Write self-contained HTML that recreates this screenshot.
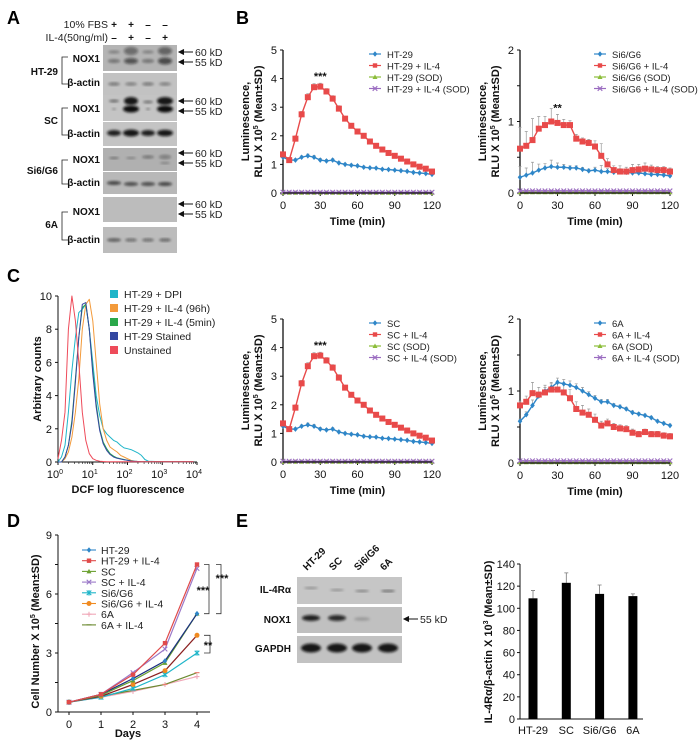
<!DOCTYPE html>
<html><head><meta charset="utf-8">
<style>
html,body{margin:0;padding:0;background:#fff;}
svg{display:block;font-family:"Liberation Sans",Arial,sans-serif;}
.tk{font-size:11px;fill:#111;}
.ttl{font-size:11px;font-weight:bold;fill:#111;}
.lg{font-size:10.5px;fill:#222;}
.lg2{font-size:9.5px;fill:#222;}
.pl{font-size:18px;font-weight:bold;fill:#000;}
.bl{font-size:10px;font-weight:bold;fill:#111;}
</style></head>
<body>
<svg id="fig" width="700" height="744" viewBox="0 0 700 744">
<defs>
<filter id="blur1" x="-50%" y="-50%" width="200%" height="200%"><feGaussianBlur stdDeviation="1.2"/></filter>
</defs>
<text class="pl" x="7" y="24">A</text>
<text class="pl" x="236" y="24">B</text>
<text class="pl" x="7" y="282">C</text>
<text class="pl" x="7" y="527">D</text>
<text class="pl" x="236" y="527">E</text>

<text class="lg" x="108" y="28" text-anchor="end">10% FBS</text>
<text class="lg" x="108" y="41" text-anchor="end">IL-4(50ng/ml)</text>
<g class="bl" text-anchor="middle">
<text x="114" y="28">+</text><text x="131" y="28">+</text><text x="148" y="28">–</text><text x="165" y="28">–</text>
<text x="114" y="41">–</text><text x="131" y="41">+</text><text x="148" y="41">–</text><text x="165" y="41">+</text>
</g>
<g id="blotsA"></g>
<g class="bl" text-anchor="end">
<text x="100" y="62">NOX1</text><text x="100" y="86">β-actin</text>
<text x="100" y="112">NOX1</text>
<text x="100" y="137">β-actin</text>
<text x="100" y="163">NOX1</text><text x="100" y="186">β-actin</text>
<text x="100" y="215">NOX1</text><text x="100" y="243">β-actin</text>
<text x="58" y="75">HT-29</text><text x="58" y="124">SC</text><text x="58" y="174">Si6/G6</text><text x="58" y="228">6A</text>
</g>
<g fill="none" stroke="#222" stroke-width="0.8">
<path d="M68 57 H62 V84 H68"/><path d="M68 108 H62 V135 H68"/><path d="M68 160 H62 V184 H68"/><path d="M68 212 H62 V240 H68"/>
</g>
<g id="kdA"></g>

<g id="lum1"></g>
<g id="lum2"></g>
<g id="lum3"></g>
<g id="lum4"></g>

<g id="hist"></g>
<g id="growth"></g>
<g id="blotE"></g>
<g id="barE"></g>
</svg>
<script>
const lumTimes=[0,5,10,15,20,25,30,35,40,45,50,55,60,65,70,75,80,85,90,95,100,105,110,115,120];
const ht29Base=[1.25,1.15,1.15,1.25,1.3,1.25,1.15,1.12,1.15,1.05,1.0,0.97,0.95,0.9,0.88,0.87,0.83,0.82,0.8,0.78,0.76,0.72,0.7,0.68,0.65];
const ht29IL4=[1.35,1.15,1.9,2.75,3.35,3.7,3.72,3.55,3.3,2.95,2.6,2.35,2.15,2.0,1.8,1.65,1.52,1.4,1.3,1.2,1.1,1.0,0.92,0.85,0.75];
const ht29SD=[0.08,0.08,0.1,0.1,0.12,0.12,0.12,0.1,0.1,0.1,0.08,0.08,0.08,0.08,0.06,0.06,0.06,0.06,0.05,0.05,0.05,0.05,0.05,0.05,0.05];
const si6Base=[0.22,0.25,0.28,0.32,0.35,0.37,0.36,0.36,0.35,0.35,0.33,0.31,0.32,0.3,0.3,0.29,0.3,0.29,0.28,0.28,0.27,0.26,0.26,0.25,0.24];
const si6IL4=[0.62,0.66,0.74,0.9,0.95,1.0,0.98,0.95,0.95,0.76,0.72,0.7,0.65,0.52,0.4,0.32,0.3,0.3,0.32,0.33,0.34,0.33,0.32,0.32,0.3];
const si6SD=[0.3,0.2,0.3,0.17,0.12,0.18,0.12,0.08,0.06,0.06,0.05,0.05,0.08,0.17,0.08,0.06,0.08,0.06,0.08,0.07,0.08,0.06,0.05,0.05,0.05];
const scBase=[1.25,1.15,1.15,1.25,1.3,1.25,1.15,1.12,1.15,1.05,1.0,0.97,0.95,0.9,0.88,0.87,0.83,0.82,0.8,0.78,0.76,0.72,0.7,0.68,0.65];
const scIL4=[1.35,1.15,1.9,2.75,3.35,3.7,3.72,3.55,3.3,2.95,2.6,2.35,2.15,2.0,1.8,1.65,1.52,1.4,1.3,1.2,1.1,1.0,0.92,0.85,0.75];
const scSD=[0.08,0.08,0.1,0.1,0.12,0.12,0.12,0.1,0.1,0.1,0.08,0.08,0.08,0.08,0.06,0.06,0.06,0.06,0.05,0.05,0.05,0.05,0.05,0.05,0.05];
const a6Base=[0.58,0.67,0.8,0.93,1.0,1.05,1.12,1.1,1.08,1.05,1.0,0.95,0.9,0.85,0.85,0.8,0.78,0.75,0.7,0.68,0.66,0.63,0.58,0.55,0.52];
const a6IL4=[0.8,0.85,0.97,0.95,0.98,1.02,1.02,0.98,0.9,0.75,0.7,0.67,0.6,0.52,0.55,0.5,0.48,0.47,0.42,0.4,0.43,0.4,0.4,0.38,0.37];
const a6SD=[0.06,0.08,0.15,0.1,0.1,0.1,0.12,0.12,0.12,0.1,0.1,0.08,0.08,0.06,0.06,0.05,0.05,0.05,0.05,0.04,0.04,0.04,0.04,0.04,0.04];
const sodBase=[0.01,0.01,0.01,0.01,0.01,0.01,0.01,0.01,0.01,0.01,0.01,0.01,0.01,0.01,0.01,0.01,0.01,0.01,0.01,0.01,0.01,0.01,0.01,0.01,0.01];
const sodIL4=[0.03,0.03,0.03,0.03,0.03,0.03,0.03,0.03,0.03,0.03,0.03,0.03,0.03,0.03,0.03,0.03,0.03,0.03,0.03,0.03,0.03,0.03,0.03,0.03,0.03];
const timeTicks=[0,30,60,90,120];

const histLog=[0,0.1,0.2,0.3,0.4,0.5,0.6,0.7,0.8,0.9,1.0,1.1,1.2,1.3,1.4,1.5,1.6,1.7,1.8,1.9,2.0,2.1,2.2,2.3,2.4,2.5,2.6,2.8,3.0,3.5,3.9];
const histDPI=[0,0.3,1,3,5.5,7.5,9,9.2,9.5,8,6,4,2.8,2.0,1.7,1.5,1.3,1.2,1.0,0.85,0.8,0.75,0.65,0.55,0.4,0.15,0.05,0.03,0.02,0.02,0.02];
const hist96h=[0,0,0.2,0.6,1.5,3,5,8,9.5,9.8,8.5,6,3.5,2,1.3,0.9,0.75,0.6,0.4,0.3,0.2,0.1,0.05,0.03,0.02,0.02,0.02,0.02,0.02,0.02,0.02];
const hist5min=[0,0,0.3,1,2.5,5,7.5,9.3,9.5,8,5.5,3.5,2,1.2,0.8,0.5,0.35,0.25,0.2,0.15,0.1,0.06,0.04,0.03,0.02,0.02,0.02,0.02,0.02,0.02,0.02];
const histStained=[0,0,0.3,1,2.3,4.8,7.5,9.5,9.6,8,5.3,3.3,1.9,1.1,0.7,0.45,0.3,0.22,0.18,0.13,0.1,0.06,0.04,0.03,0.02,0.02,0.02,0.02,0.02,0.02,0.02];
const histUnstained=[0.2,1.3,3,8,10,8.5,6,3,1.3,0.5,0.2,0.1,0.05,0.03,0.02,0.02,0.02,0.02,0.02,0.02,0.02,0.02,0.02,0.02,0.02,0.02,0.02,0.02,0.02,0.02,0.02];
const histYTicks=[0,2,4,6,8,10];
const histXTicks=[0,1,2,3,4];

const days=[0,1,2,3,4];
const gHT29=[0.5,0.9,1.7,2.6,5.0];
const gHT29IL4=[0.5,0.9,1.9,3.5,7.5];
const gSC=[0.5,0.85,1.6,2.5,5.0];
const gSCIL4=[0.5,0.9,2.0,3.2,7.3];
const gSi6=[0.5,0.75,1.2,1.9,3.0];
const gSi6IL4=[0.5,0.8,1.4,2.1,3.9];
const g6A=[0.5,0.75,1.05,1.4,1.8];
const g6AIL4=[0.5,0.8,1.1,1.4,2.0];
const growthYTicks=[0,3,6,9];

const barCats=['HT-29','SC','Si6/G6','6A'];
const barVals=[109,123,113,111];
const barSD=[7,9,8,2];
const barYTicks=[0,20,40,60,80,100,120,140];

const NS='http://www.w3.org/2000/svg';
function mk(tag,at,parent){const e=document.createElementNS(NS,tag);for(const k in at)e.setAttribute(k,at[k]);parent.appendChild(e);return e;}
function tx(s,x,y,cls,parent,extra){const e=mk('text',Object.assign({x:x,y:y,class:cls},extra||{}),parent);e.textContent=s;return e;}
function marker(type,x,y,col,g){
  let e;
  if(type==='diamond'){e=mk('path',{d:`M${x} ${y-2.8}L${x+2.3} ${y}L${x} ${y+2.8}L${x-2.3} ${y}Z`,fill:col},g);}
  else if(type==='square'){e=mk('rect',{x:x-3,y:y-3,width:6,height:6,fill:col},g);}
  else if(type==='sq4'){e=mk('rect',{x:x-2.2,y:y-2.2,width:4.4,height:4.4,fill:col},g);}
  else if(type==='tri'){e=mk('path',{d:`M${x} ${y-2.5}L${x+2.5} ${y+2}L${x-2.5} ${y+2}Z`,fill:col},g);}
  else if(type==='x'){e=mk('path',{d:`M${x-2.3} ${y-2.3}L${x+2.3} ${y+2.3}M${x+2.3} ${y-2.3}L${x-2.3} ${y+2.3}`,stroke:col,'stroke-width':1.1},g);}
  else if(type==='star'){e=mk('path',{d:`M${x-2.3} ${y-2.3}L${x+2.3} ${y+2.3}M${x+2.3} ${y-2.3}L${x-2.3} ${y+2.3}M${x} ${y-2.8}V${y+2.8}`,stroke:col,'stroke-width':1.1},g);}
  else if(type==='circle'){e=mk('circle',{cx:x,cy:y,r:2.5,fill:col},g);}
  else if(type==='plus'){e=mk('path',{d:`M${x-2.5} ${y}H${x+2.5}M${x} ${y-2.5}V${y+2.5}`,stroke:col,'stroke-width':1.1},g);}
  else {e=mk('path',{d:`M${x-2.5} ${y}H${x+2.5}`,stroke:col,'stroke-width':1.2},g);}
  
  
  return e;
}

function lumPlot(g,X0,X1,Y0,Y1,ymax,yMajor,yMinor,names,base,il4,sd,sod1,sod2,star,legX){
  const xs=t=>X0+(t/120)*(X1-X0);
  const ys=v=>Y0-(v/ymax)*(Y0-Y1);
  let ax=mk('path',{d:`M${X0} ${Y1}V${Y0}H${X1}`,stroke:'#111','stroke-width':1.3,fill:'none'},g);
  
  
  yMajor.forEach(v=>{
    let t=mk('line',{x1:X0-3,x2:X0,y1:ys(v),y2:ys(v),stroke:'#111'},g);
    
    
    let l=tx(String(v),X0-6,ys(v)+4,'tk',g,{'text-anchor':'end'});
    
    
  });
  yMinor.forEach(v=>{
    let t=mk('line',{x1:X0-3,x2:X0,y1:ys(v),y2:ys(v),stroke:'#111'},g);
    
    
  });
  timeTicks.forEach(v=>{
    let t=mk('line',{x1:xs(v),x2:xs(v),y1:Y0,y2:Y0+3,stroke:'#111'},g);
    
    
    let l=tx(String(v),xs(v),Y0+16,'tk',g,{'text-anchor':'middle'});
    
    
  });
  let xt=tx('Time (min)',(X0+X1)/2,Y0+32,'ttl',g,{'text-anchor':'middle'});
  
  
  const cy=(Y0+Y1)/2;
  let yt=mk('text',{class:'ttl','text-anchor':'middle',transform:`translate(${X0-21},${cy}) rotate(-90)`},g);
  
  
  mk('tspan',{x:0,y:-13},yt).textContent='Luminescence,';
  const ts=mk('tspan',{x:0,y:0},yt);ts.textContent='RLU X 10';
  const sup=mk('tspan',{'font-size':'7px',dy:-4},ts);sup.textContent='5';
  const ts2=mk('tspan',{dy:4},ts);ts2.textContent=' (Mean±SD)';
  [[base,sd,0.5],[il4,sd,1]].forEach(([arr,s,f])=>{
    arr.forEach((v,i)=>{
      let e=mk('path',{d:`M${xs(lumTimes[i])} ${ys(v)}V${ys(v+s[i]*f)}M${xs(lumTimes[i])-1.5} ${ys(v+s[i]*f)}H${xs(lumTimes[i])+1.5}`,stroke:'#999','stroke-width':0.7,fill:'none'},g);
      
      
    });
  });
  const series=[[sod1,'#8cbd3a','tri'],[sod2,'#9a6bc0','x'],[base,'#2e86c8','diamond'],[il4,'#e84a4a','square']];
  series.forEach(([arr,col,m])=>{
    const d=arr.map((v,i)=>(i?'L':'M')+xs(lumTimes[i])+' '+ys(v)).join('');
    let p=mk('path',{d:d,stroke:col,'stroke-width':1.4,fill:'none'},g);
    
    
    arr.forEach((v,i)=>marker(m,xs(lumTimes[i]),ys(v),col,g));
  });
  let b=mk('line',{x1:X0,x2:X1,y1:Y0,y2:Y0,stroke:'#111','stroke-width':1.3},g);
  
  
  const si=lumTimes.indexOf(30);
  let st=tx(star,xs(30),ys(il4[si]+sd[si])-3,'ttl',g,{'text-anchor':'middle'});
  
  
  const ly=Y1+4;
  const lcols=[['#2e86c8','diamond'],['#e84a4a','sq4'],['#8cbd3a','tri'],['#9a6bc0','x']];
  names.forEach((n,i)=>{
    const yy=ly+i*11.5;
    let ln=mk('line',{x1:legX-6,x2:legX+6,y1:yy,y2:yy,stroke:lcols[i][0],'stroke-width':1.2},g);
    
    
    marker(lcols[i][1],legX,yy,lcols[i][0],g);
    let t=tx(n,legX+12,yy+4,'lg2',g);
    
    
  });
}
lumPlot(document.getElementById('lum1'),283,432,193,50,5,[0,1,2,3,4,5],[],['HT-29','HT-29 + IL-4','HT-29 (SOD)','HT-29 + IL-4 (SOD)'],ht29Base,ht29IL4,ht29SD,sodBase,sodIL4,'***',375);
lumPlot(document.getElementById('lum2'),520,670,193,50,2,[0,1,2],[0.5,1.5],['Si6/G6','Si6/G6 + IL-4','Si6/G6 (SOD)','Si6/G6 + IL-4 (SOD)'],si6Base,si6IL4,si6SD,sodBase,sodIL4,'**',600);
lumPlot(document.getElementById('lum3'),283,432,462,319,5,[0,1,2,3,4,5],[],['SC','SC + IL-4','SC (SOD)','SC + IL-4 (SOD)'],scBase,scIL4,scSD,sodBase,sodIL4,'***',375);
lumPlot(document.getElementById('lum4'),520,670,463,319,2,[0,1,2],[0.5,1.5],['6A','6A + IL-4','6A (SOD)','6A + IL-4 (SOD)'],a6Base,a6IL4,a6SD,sodBase,sodIL4,'',600);

(function(){
  const g=document.getElementById('hist');
  const X0=58,X1=197,Y0=462,Y1=296;
  const xs=l=>X0+(l/4)*(X1-X0);
  const ys=v=>Y0-(v/10)*(Y0-Y1);
  let ax=mk('path',{d:`M${X0} ${Y1}V${Y0}H${X1}`,stroke:'#111','stroke-width':1,fill:'none'},g);
  
  
  histYTicks.forEach(v=>{
    let t=mk('line',{x1:X0-3,x2:X0,y1:ys(v),y2:ys(v),stroke:'#111'},g);
    
    
    let l=tx(String(v),X0-6,ys(v)+4,'tk',g,{'text-anchor':'end'});
    
    
  });
  histXTicks.forEach(v=>{
    let t=mk('line',{x1:xs(v),x2:xs(v),y1:Y0,y2:Y0+3,stroke:'#111'},g);
    
    
    let l=tx('10',xs(v)-3,Y0+16,'tk',g,{'text-anchor':'middle'});
    
    
    const s=mk('tspan',{'font-size':'7px',dy:-4},l);s.textContent=String(v);
    if(v<4){for(let k=2;k<10;k++){let m=mk('line',{x1:xs(v+Math.log10(k)),x2:xs(v+Math.log10(k)),y1:Y0,y2:Y0+2,stroke:'#111','stroke-width':0.6},g);
      
      }}
  });
  let xt=tx('DCF log fluorescence',128,493,'ttl',g,{'text-anchor':'middle'});
  
  
  let yt=tx('Arbitrary counts',0,0,'ttl',g,{'text-anchor':'middle',transform:`translate(41,${(Y0+Y1)/2}) rotate(-90)`,x:0,y:0});
  
  
  const ser=[[histDPI,'#1fb5c9'],[hist96h,'#f39a3a'],[hist5min,'#2aa84a'],[histStained,'#3347a0'],[histUnstained,'#ee4b5a']];
  ser.forEach(([arr,col])=>{
    const d=arr.map((v,i)=>(i?'L':'M')+xs(histLog[i]).toFixed(1)+' '+ys(v).toFixed(1)).join('');
    let p=mk('path',{d:d,stroke:col,'stroke-width':1,fill:'none','stroke-linejoin':'round'},g);
    
    
  });
  const names=[['HT-29 + DPI','#1fb5c9'],['HT-29 + IL-4 (96h)','#f39a3a'],['HT-29 + IL-4 (5min)','#2aa84a'],['HT-29 Stained','#3347a0'],['Unstained','#ee4b5a']];
  names.forEach(([n,c],i)=>{
    const yy=295+i*14;
    let r=mk('rect',{x:110,y:yy-5,width:8,height:8,fill:c},g);
    
    
    let t=tx(n,124,yy+3,'lg',g);
    
    
  });
})();

(function(){
  const g=document.getElementById('growth');
  const X0=58,Y0=712,Y1=535;
  const xs=d=>69+d*32;
  const ys=v=>Y0-(v/9)*(Y0-Y1);
  let ax=mk('path',{d:`M${X0} ${Y1}V${Y0}H${210}`,stroke:'#111','stroke-width':1,fill:'none'},g);
  
  
  growthYTicks.forEach(v=>{
    let t=mk('line',{x1:X0-3,x2:X0,y1:ys(v),y2:ys(v),stroke:'#111'},g);
    
    
    let l=tx(String(v),X0-6,ys(v)+4,'tk',g,{'text-anchor':'end'});
    
    
  });
  [1.5,4.5,7.5].forEach(v=>{let t=mk('line',{x1:X0-3,x2:X0,y1:ys(v),y2:ys(v),stroke:'#111'},g);
    
    });
  days.forEach(d=>{
    let t=mk('line',{x1:xs(d),x2:xs(d),y1:Y0,y2:Y0+3,stroke:'#111'},g);
    
    
    let l=tx(String(d),xs(d),Y0+16,'tk',g,{'text-anchor':'middle'});
    
    
  });
  let xt=tx('Days',128,737,'ttl',g,{'text-anchor':'middle'});
  
  
  let yt=mk('text',{class:'ttl','text-anchor':'middle',transform:`translate(39,${(Y0+Y1)/2+8}) rotate(-90)`},g);
  
  
  yt.textContent='Cell Number X 10';
  const s1=mk('tspan',{'font-size':'7px',dy:-4},yt);s1.textContent='5';
  const s2=mk('tspan',{dy:4},yt);s2.textContent=' (Mean±SD)';
  const ser=[
    [g6A,'#f0a8b8','#f0a8b8','plus'],[g6AIL4,'#6b8a30','#e88070','dash'],
    [gSi6,'#1fb5c9','#1fb5c9','star'],[gSi6IL4,'#8b2020','#f08a20','circle'],
    [gSC,'#6aa030','#6aa030','tri'],[gHT29,'#1a2f80','#2e86c8','diamond'],
    [gSCIL4,'#9a78c8','#9a78c8','x'],[gHT29IL4,'#e04a4a','#e04a4a','square']];
  ser.forEach(([arr,lc,mc,m])=>{
    const d=arr.map((v,i)=>(i?'L':'M')+xs(days[i])+' '+ys(v)).join('');
    let p=mk('path',{d:d,stroke:lc,'stroke-width':1.2,fill:'none'},g);
    
    
    arr.forEach((v,i)=>marker(m==='square'?'sq4':m,xs(days[i]),ys(v),mc,g));
  });
  const leg=[['HT-29','#2e86c8','diamond'],['HT-29 + IL-4','#e04a4a','sq4'],['SC','#6aa030','tri'],['SC + IL-4','#9a78c8','x'],['Si6/G6','#1fb5c9','star'],['Si6/G6 + IL-4','#f08a20','circle'],['6A','#f0a8b8','plus'],['6A + IL-4','#6b8a30','dash']];
  leg.forEach(([n,c,m],i)=>{
    const yy=550+i*10.7;
    let ln=mk('line',{x1:82,x2:96,y1:yy,y2:yy,stroke:c,'stroke-width':1.1},g);
    
    
    marker(m,89,yy,c,g);
    let t=tx(n,101,yy+4,'lg',g);
    
    
  });
  let br=mk('path',{d:`M204 ${ys(7.5)}H209V${ys(5.0)}H204M216 ${ys(7.5)}H221V${ys(5.0)}H216M204 ${ys(3.9)}H210V${ys(3.0)}H204`,stroke:'#333','stroke-width':0.8,fill:'none'},g);
  
  
  let s3=tx('***',203,ys(6.0),'ttl',g,{'text-anchor':'middle'});
  
  
  let s4=tx('***',222,ys(6.6),'ttl',g,{'text-anchor':'middle'});
  
  
  let s5=tx('**',208,ys(3.2),'ttl',g,{'text-anchor':'middle'});
  
  
})();

function blot(g,x,y,w,h,fill,bands){
  let r=mk('rect',{x:x,y:y,width:w,height:h,fill:fill},g);
  
  
  bands.forEach(([cx,cy,rx,ry,op])=>{
    let e=mk('ellipse',{cx:cx,cy:cy,rx:rx,ry:ry,fill:'#111','fill-opacity':op,filter:'url(#blur1)'},g);
    
    
  });
}
(function(){
  const g=document.getElementById('blotsA');
  const L=[114,131,148,165];
  blot(g,103,45,74,26,'#b4b4b4',[[L[0],52,6,1.5,0.3],[L[1],51,7,4,0.45],[L[2],52,6,1.5,0.3],[L[3],51,7,4,0.5],[L[0],61,6,1.8,0.45],[L[1],61,7,3,0.6],[L[2],61,6,1.8,0.45],[L[3],61,7,3.5,0.65]]);
  blot(g,103,73,74,23,'#c2c2c2',[[L[0],84,6,1.5,0.45],[L[1],84,6,1.5,0.4],[L[2],84,6,1.5,0.45],[L[3],84,6,1.5,0.4]]);
  blot(g,103,95,74,26,'#c4c4c4',[[L[0],101,5,1.2,0.55],[L[1],101,7,4,0.95],[L[2],102,5,1.2,0.5],[L[3],101,8,4,0.95],[L[0],109,2,1,0.3],[L[1],109,8,3.5,1],[L[2],109,2,1,0.4],[L[3],109,8,3.5,1]]);
  blot(g,103,122,74,24,'#c4c4c4',[[L[0],133,7,3,0.9],[L[1],133,8,3.5,0.95],[L[2],133,7,3,0.9],[L[3],133,8,3.3,0.95]]);
  blot(g,103,148,74,23,'#b0b0b0',[[L[0],158,5,1,0.4],[L[1],158,5,1,0.3],[L[2],157,6,1.3,0.45],[L[3],157,6,2,0.35],[L[3],163,5,1,0.3]]);
  blot(g,103,172,74,22,'#b8b8b8',[[L[0],183,7,1.8,0.75],[L[1],184,7,1.8,0.7],[L[2],184,7,1.8,0.7],[L[3],184,7,1.8,0.75]]);
  blot(g,103,197,74,25,'#bcbcbc',[]);
  blot(g,103,227,74,26,'#bcbcbc',[[L[0],240,7,1.6,0.6],[L[1],240,6,1.5,0.5],[L[2],240,6,1.5,0.5],[L[3],240,6,1.5,0.55]]);
  const k=document.getElementById('kdA');
  [[52,'60 kD'],[62,'55 kD'],[101,'60 kD'],[111,'55 kD'],[153,'60 kD'],[163,'55 kD'],[204,'60 kD'],[214,'55 kD']].forEach(([y,s])=>{
    let a=mk('path',{d:`M193 ${y}H180M184 ${y-2.5}L179 ${y}L184 ${y+2.5}`,stroke:'#111','stroke-width':1,fill:'#111'},k);
    
    
    let t=tx(s,195,y+4,'lg',k);
    
    
  });
})();
(function(){
  const g=document.getElementById('blotE');
  const L=[311,337,362,388];
  blot(g,297,577,105,27,'#c6c6c6',[[L[0],588,7,0.9,0.35],[L[1],590,7,0.9,0.35],[L[2],591,7,0.9,0.45],[L[3],591,7,1,0.55]]);
  blot(g,297,607,105,26,'#c0c0c0',[[L[0],618,9,3,0.9],[L[1],618,9,3,0.85],[L[2],619,8,1.8,0.2]]);
  blot(g,297,636,105,27,'#c2c2c2',[[L[0],648,10,4.5,0.95],[L[1],648,10,4.5,0.95],[L[2],648,10,4.5,0.95],[L[3],648,10,4.5,0.95]]);
  barCats.forEach((c,i)=>{
    let t=tx(c,L[i]-4,571,'bl',g,{transform:`rotate(-45 ${L[i]-4} 571)`});
    
    
  });
  [['IL-4Rα',593],['NOX1',623],['GAPDH',652]].forEach(([s,y])=>{
    let t=tx(s,291,y,'bl',g,{'text-anchor':'end'});
    
    
  });
  let a=mk('path',{d:`M418 619H405M409 616.5L404 619L409 621.5`,stroke:'#111','stroke-width':1,fill:'#111'},g);
  
  
  let t=tx('55 kD',420,623,'lg',g);
  
  
})();

(function(){
  const g=document.getElementById('barE');
  const X0=520,X1=643,Y0=719,Y1=564;
  const ys=v=>Y0-(v/140)*(Y0-Y1);
  const xs=i=>533+i*33.3;
  let ax=mk('path',{d:`M${X0} ${Y1}V${Y0}H${X1}`,stroke:'#111','stroke-width':1,fill:'none'},g);
  
  
  barYTicks.forEach(v=>{
    let tk=mk('line',{x1:X0-3,x2:X0,y1:ys(v),y2:ys(v),stroke:'#111'},g);
    
    
    let l=tx(String(v),X0-5,ys(v)+4,'tk',g,{'text-anchor':'end'});
    
    
  });
  barVals.forEach((v,i)=>{
    let e=mk('path',{d:`M${xs(i)} ${ys(v)}V${ys(v+barSD[i])}M${xs(i)-2} ${ys(v+barSD[i])}H${xs(i)+2}`,stroke:'#777','stroke-width':0.8},g);
    
    
    let r=mk('rect',{x:xs(i)-4.5,y:ys(v),width:9,height:Y0-ys(v),fill:'#000'},g);
    
    
    let l=tx(barCats[i],xs(i),734,'tk',g,{'text-anchor':'middle'});
    
    
  });
  let yt=mk('text',{class:'ttl','text-anchor':'middle',transform:`translate(492,642) rotate(-90)`},g);
  
  
  yt.textContent='IL-4Rα/β-actin X 10';
  const s1=mk('tspan',{'font-size':'7px',dy:-4},yt);s1.textContent='3';
  const s2=mk('tspan',{dy:4},yt);s2.textContent=' (Mean±SD)';
})();
</script>
</body></html>
